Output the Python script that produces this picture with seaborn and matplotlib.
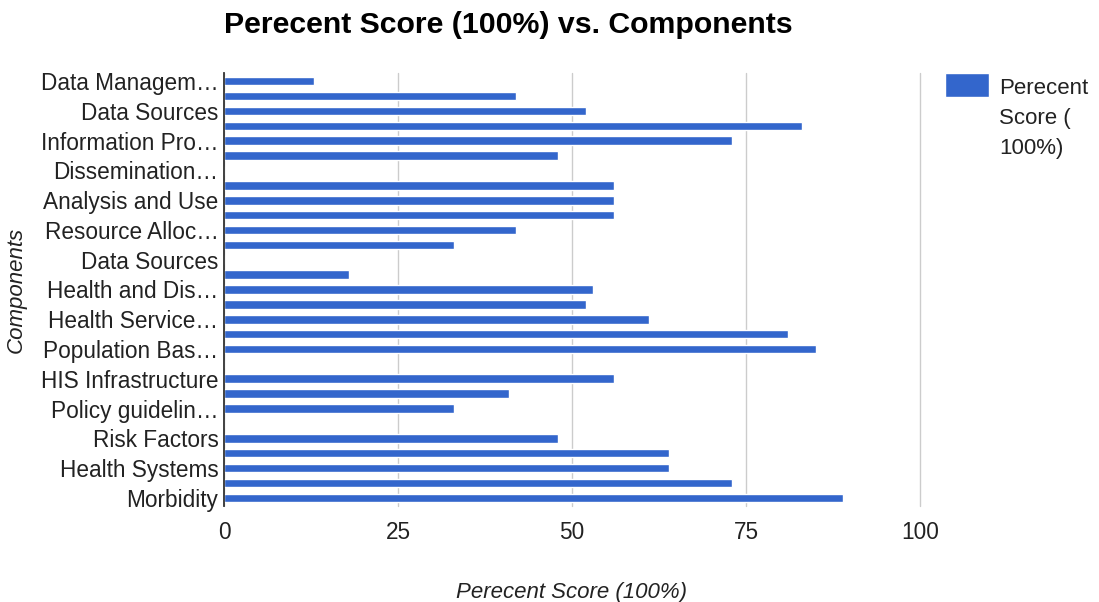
import numpy as np
import matplotlib
matplotlib.use("Agg")
import matplotlib.pyplot as plt
from matplotlib.patches import Rectangle
from matplotlib.legend_handler import HandlerPatch
import seaborn as sns

# ---- data ----
scores = [13, 42, 52, 83, 73, 48, 0, 56, 56, 56, 42, 33, 0, 18, 53,
          52, 61, 81, 85, 0, 56, 41, 33, 0, 48, 64, 64, 73, 89]
tick_labels = ["Data Managem…", "Data Sources", "Information Pro…",
               "Dissemination…", "Analysis and Use", "Resource Alloc…",
               "Data Sources", "Health and Dis…", "Health Service…",
               "Population Bas…", "HIS Infrastructure", "Policy guidelin…",
               "Risk Factors", "Health Systems", "Morbidity"]
x_ticks = [0, 25, 50, 75, 100]
series_name = "Perecent\nScore (\n100%)"

sns.set_theme(style="white")
plt.rcParams['font.family'] = ['Liberation Sans', 'DejaVu Sans']

W, H = 1099, 602
fig = plt.figure(figsize=(W / 100, H / 100), dpi=100)
ax = fig.add_axes([224 / W, 1 - 506 / H, (920 - 224) / W, (506 - 73) / H])

positions = np.arange(len(scores))
sns.barplot(x=scores, y=positions, orient="h", native_scale=True,
            width=0.58, color="#3366CC", saturation=1, ax=ax,
            label=series_name)

ax.set_xlim(0, 100)
ax.set_ylim(len(scores) - 1 + 0.55, -0.55)
ax.set_xticks(x_ticks)
ax.set_xticklabels([str(t) for t in x_ticks])
ax.set_yticks(positions[::2])
ax.set_yticklabels(tick_labels)
ax.tick_params(axis="both", length=0, labelsize=16.3, colors="#222222")
ax.tick_params(axis="x", pad=11)
ax.tick_params(axis="y", pad=4)

ax.grid(axis="x", color="#CCCCCC", linewidth=1)
ax.grid(axis="y", visible=False)
for gl in ax.get_xgridlines():
    gl.set_clip_on(False)
ax.set_axisbelow(True)
for s in ["top", "right", "bottom"]:
    ax.spines[s].set_visible(False)
ax.spines["left"].set_color("#333333")
ax.spines["left"].set_linewidth(1.3)

ax.set_xlabel("Perecent Score (100%)", fontsize=16, style="italic",
              color="#222222", labelpad=27)
ax.set_ylabel("Components", fontsize=16, style="italic", color="#222222",
              labelpad=10)

fig.suptitle("Perecent Score (100%) vs. Components", fontsize=21.8,
             fontweight="bold", color="black", x=508 / W, y=1 - 11 / H,
             va="top")

FS = 16
PATCH_H = 24 * 0.72  # points


def top_patch(legend, orig_handle, xdescent, ydescent, width, height, fontsize):
    return Rectangle((-xdescent, height - ydescent - PATCH_H), width, PATCH_H)


def first_child(tgt, src):
    child = next(iter(src.get_children()), None)
    if child is not None:
        tgt.update_from(child)


handles, labels = ax.get_legend_handles_labels()
leg = ax.legend(handles, labels, loc="upper left",
                bbox_to_anchor=(945 / W, 1 - 73 / H),
                bbox_transform=fig.transFigure, frameon=False,
                borderpad=0, borderaxespad=0, handlelength=2.0,
                handleheight=6.4, handletextpad=0.45, fontsize=FS,
                handler_map={handles[0]: HandlerPatch(patch_func=top_patch,
                                                      update_func=first_child)})
for t in leg.get_texts():
    t.set_color("#222222")
    t.set_linespacing(1.57)

fig.savefig("out.png", dpi=100)
